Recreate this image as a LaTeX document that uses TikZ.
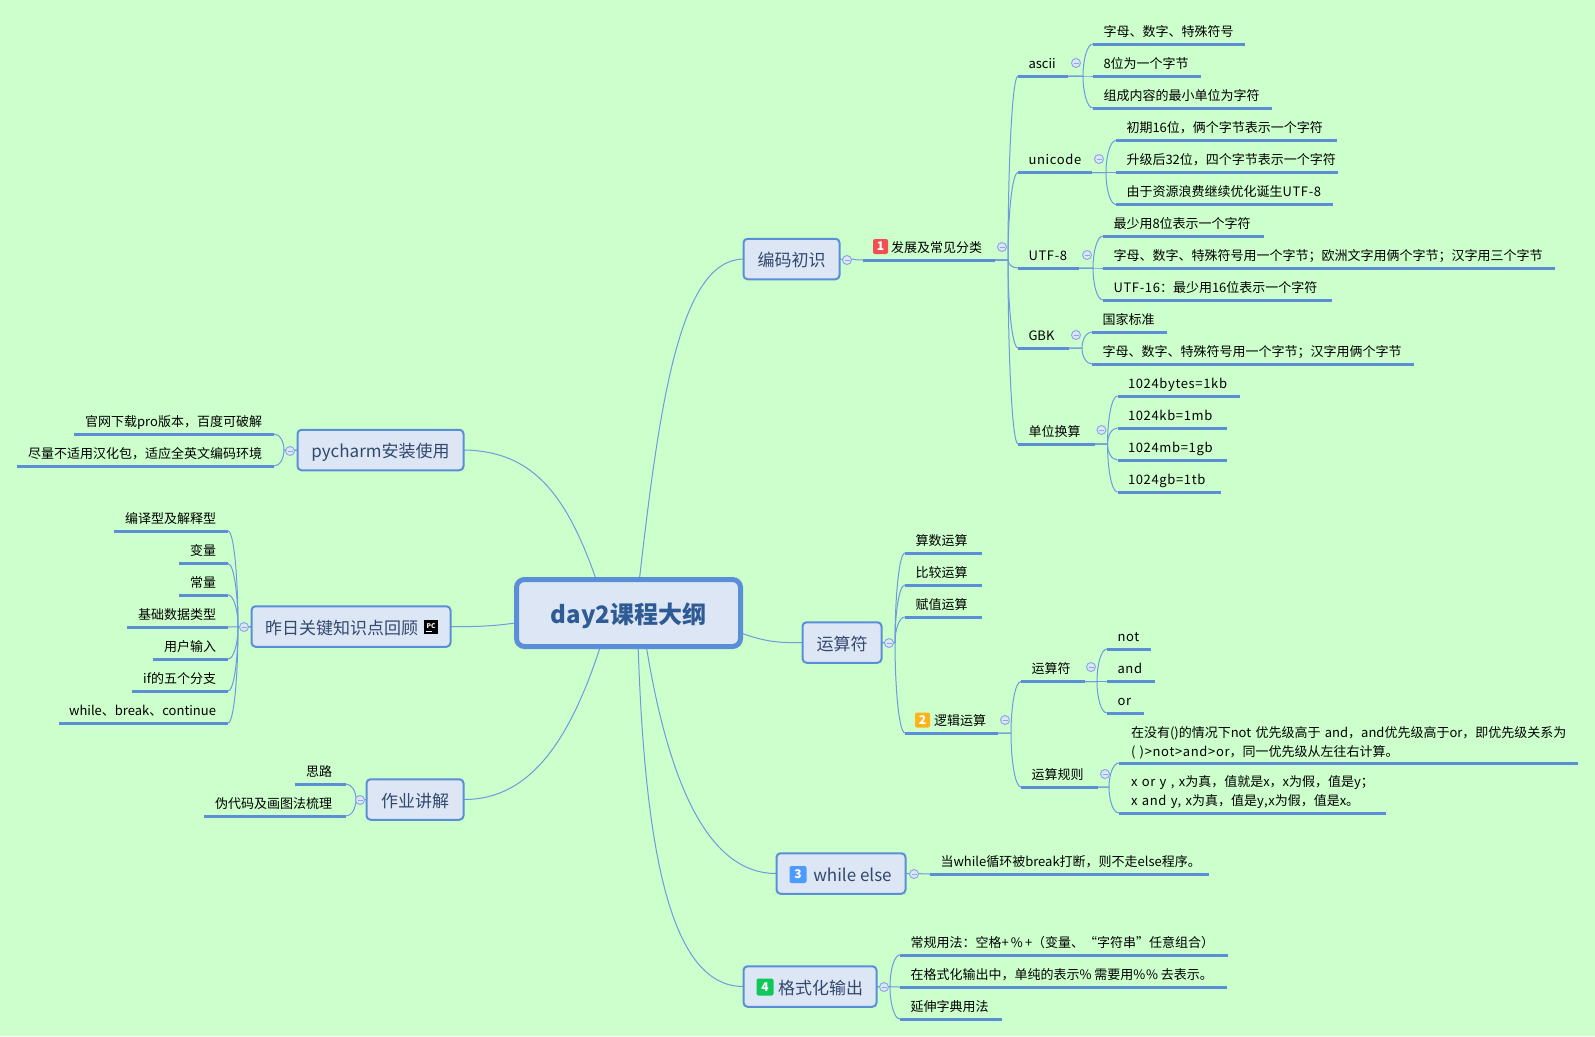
\documentclass[tikz,border=0pt]{standalone}
\usepackage{fontspec}
\setmainfont{Noto Sans CJK SC}
\newfontfamily\latfont[LetterSpace=5]{Noto Sans CJK SC}
\newcommand{\lat}[1]{{\latfont #1}}
\usetikzlibrary{backgrounds,calc}
\definecolor{paper}{HTML}{CCFFCC}
\definecolor{boxfill}{HTML}{DCE6F4}
\definecolor{boxline}{HTML}{5A8FD8}
\definecolor{linkline}{HTML}{6E9BDC}
\definecolor{ringline}{HTML}{8FA8EA}
\definecolor{boxtext}{HTML}{33486F}
\definecolor{roottext}{HTML}{2F5B94}
\definecolor{numred}{HTML}{F05050}
\definecolor{numorange}{HTML}{FFB31A}
\definecolor{numblue}{HTML}{4E9BFF}
\definecolor{numgreen}{HTML}{0FC85A}
\tikzset{
	root/.style={draw=boxline,fill=boxfill,line width=5pt,rounded corners=8pt,minimum width=224,minimum height=67,inner sep=0pt,outer sep=0pt,text height=20pt,text depth=0pt,text=roottext,font=\fontsize{24}{28}\selectfont\bfseries},
	topic/.style={draw=boxline,fill=boxfill,line width=2pt,rounded corners=4pt,inner sep=0pt,outer sep=0pt,minimum height=40.5,text height=15pt,text depth=0pt,text=boxtext,font=\fontsize{17}{20}\selectfont},
	uline/.style={draw=boxline,line width=3pt},
	leafbase/.style={anchor=south west,inner xsep=0pt,inner ysep=5pt,outer sep=0pt,font=\fontsize{13}{19}\selectfont,
		append after command={(\tikzlastnode.south west) edge[uline] (\tikzlastnode.south east)}},
	leaf/.style={leafbase,text height=10pt,text depth=3pt,minimum width=#1,
		execute at begin node={\hbox to #1pt\bgroup\hskip 10.5pt\relax},execute at end node={\hfil\egroup}},
	lleaf/.style={leafbase,text height=10pt,text depth=3pt,minimum width=#1,
		execute at begin node={\hbox to #1pt\bgroup\hfil},execute at end node={\hskip 12pt\relax\egroup}},
	mleaf/.style={leafbase,inner xsep=12pt,inner ysep=4pt,text width={#1-24},align=left},
	toggle/.style={circle,draw=ringline,fill=boxfill,line width=1pt,minimum size=9,inner sep=0pt,
		path picture={\draw[ringline,line width=1pt] ([xshift=-2.5pt]path picture bounding box.center) -- ([xshift=2.5pt]path picture bounding box.center);}},
	badge/.style={rounded corners=2pt,inner sep=0pt,minimum size=#1,text=white,font=\fontsize{12}{12}\selectfont\bfseries},
	pcicon/.style={fill=black,inner sep=0pt,minimum size=14,text=white,font=\fontsize{6.5}{7}\selectfont\bfseries},
	link/.style={draw=linkline,line width=1pt},
	branch/.style={to path={let \p1=(\tikztostart),\p2=(\tikztotarget) in -- ({\x2-(#1)},\y1) .. controls ({\x2-(#1)},{0.5*\y1+0.5*\y2}) and ({\x2-0.6*(#1)},\y2) .. (\p2)}},
	branch/.default=10pt
}
\begin{document}
\begin{tikzpicture}[x=1pt,y=-1pt]
	\useasboundingbox (0,0) rectangle (1595,1036);
	
	\node[root] (root) at (628.5,613) {day2课程大纲};
	\node[topic,minimum width=96] (bianma) at (791.5,259) {编码初识};
	\node[topic,minimum width=79] (yunsuan) at (842,642.5) {运算符};
	\node[topic,minimum width=129] (whileelse) at (841,873.5) {\hspace*{23pt}while else};
	\node[topic,minimum width=133] (geshi) at (810,986.5) {\hspace*{21pt}格式化输出};
	\node[topic,minimum width=166] (pycharm) at (380.5,450) {pycharm安装使用};
	\node[topic,minimum width=199] (zuori) at (351,626.5) {昨日关键知识点回顾\hspace*{19pt}};
	\node[topic,minimum width=97] (zuoye) at (415,799.5) {作业讲解};
	
	\node[leaf=132] (fazhan) at (863,260) {\hspace*{17.5pt}发展及常见分类};
	\node[leaf=50] (ascii) at (1018,76) {ascii};
	\node[leaf=152] (ascii1) at (1093,44) {字母、数字、特殊符号};
	\node[leaf=108] (ascii2) at (1093,76) {8位为一个字节};
	\node[leaf=179] (ascii3) at (1093,108) {组成内容的最小单位为字符};
	\node[leaf=74] (unicode) at (1018,172.5) {\lat{unicode}};
	\node[leaf=221] (uni1) at (1116,140.5) {初期16位，俩个字节表示一个字符};
	\node[leaf=222] (uni2) at (1116,172.5) {升级后32位，四个字节表示一个字符};
	\node[leaf=217] (uni3) at (1116,204.5) {由于资源浪费继续优化诞生\lat{UTF-8}};
	\node[leaf=61] (utf) at (1018,268) {\lat{UTF-8}};
	\node[leaf=161] (utf1) at (1103,236) {最少用8位表示一个字符};
	\node[leaf=452] (utf2) at (1103,268) {字母、数字、特殊符号用一个字节；欧洲文字用俩个字节；汉字用三个字节};
	\node[leaf=229] (utf3) at (1103,300) {\lat{UTF-16}：最少用16位表示一个字符};
	\node[leaf=51] (gbk) at (1018,348) {GBK};
	\node[leaf=75] (gbk1) at (1092,332) {国家标准};
	\node[leaf=322] (gbk2) at (1092,364) {字母、数字、特殊符号用一个字节；汉字用俩个字节};
	\node[leaf=77] (danwei) at (1018,444) {单位换算};
	\node[leaf=122] (dan1) at (1117.5,396) {\lat{1024bytes=1kb}};
	\node[leaf=109] (dan2) at (1117.5,428) {\lat{1024kb=1mb}};
	\node[leaf=109] (dan3) at (1117.5,460) {\lat{1024mb=1gb}};
	\node[leaf=103] (dan4) at (1117.5,492) {\lat{1024gb=1tb}};
	
	\node[leaf=77] (suan1) at (905,553) {算数运算};
	\node[leaf=77] (suan2) at (905,585) {比较运算};
	\node[leaf=77] (suan3) at (905,617) {赋值运算};
	\node[leaf=93] (suan4) at (905,733) {\hspace*{18.5pt}逻辑运算};
	\node[leaf=64] (fu) at (1021,681.5) {运算符};
	\node[leaf=44] (fu1) at (1107,649) {\lat{not}};
	\node[leaf=48] (fu2) at (1107,681.5) {\lat{and}};
	\node[leaf=37] (fu3) at (1107,713) {\lat{or}};
	\node[leaf=77] (guize) at (1021,787) {运算规则};
	\node[mleaf=459] (gui1) at (1119,763) {在没有()的情况下not 优先级高于 and，and优先级高于or，即优先级关系为\\\lat{( )>not>and>or}，同一优先级从左往右计算。};
	\node[mleaf=267] (gui2) at (1119,813) {\lat{x or y , x}为真，值就是\lat{x}，\lat{x}为假，值是\lat{y}；\\\lat{x and y, x}为真，值是\lat{y,x}为假，值是\lat{x}。};
	
	\node[leaf=279] (wh1) at (930,874) {当while循环被break打断，则不走else程序。};
	\node[leaf=328] (ge1) at (900,955) {常规用法：空格\lat{+\,\%\,+}（变量、“字符串”任意组合）};
	\node[leaf=327] (ge2) at (900,987) {在格式化输出中，单纯的表示\lat{\%} 需要用\lat{\%\%} 去表示。};
	\node[leaf=102] (ge3) at (900,1019) {延伸字典用法};
	
	\node[lleaf=200] (py1) at (74,434) {官网下载pro版本，百度可破解};
	\node[lleaf=257] (py2) at (17,466) {尽量不适用汉化包，适应全英文编码环境};
	\node[lleaf=114] (zr1) at (114,531) {编译型及解释型};
	\node[lleaf=49] (zr2) at (179,563.5) {变量};
	\node[lleaf=49] (zr3) at (179,595) {常量};
	\node[lleaf=101] (zr4) at (127,627) {基础数据类型};
	\node[lleaf=75] (zr5) at (153,659) {用户输入};
	\node[lleaf=96] (zr6) at (132,691) {if的五个分支};
	\node[lleaf=169] (zr7) at (59,723) {while、break、continue};
	\node[lleaf=51,xshift=-2pt] (zy1) at (297,784) {思路\hspace*{2pt}};
	\node[lleaf=142] (zy2) at (204,816) {伪代码及画图法梳理\hspace*{2pt}};
	
	\node[toggle] (tgbianma) at (847,260) {};
	\node[toggle] (tgfazhan) at (1002,247) {};
	\node[toggle] (tgascii) at (1076,63) {};
	\node[toggle] (tgunicode) at (1099,159) {};
	\node[toggle] (tgutf) at (1087,255) {};
	\node[toggle] (tggbk) at (1076,335) {};
	\node[toggle] (tgdanwei) at (1101.5,430) {};
	\node[toggle] (tgyunsuan) at (889,643) {};
	\node[toggle] (tgluoji) at (1005,720) {};
	\node[toggle] (tgfu) at (1091,667) {};
	\node[toggle] (tgguize) at (1105,774) {};
	\node[toggle] (tgwhile) at (914,874) {};
	\node[toggle] (tggeshi) at (884,987) {};
	\node[toggle] (tgpycharm) at (290,451) {};
	\node[toggle] (tgzuori) at (244,627) {};
	\node[toggle] (tgzuoye) at (360,800) {};
	
	\node[badge=15,fill=numred] (num1) at (880.5,246.5) {1};
	\node[badge=15,fill=numorange] (num2) at (922.5,720) {2};
	\node[badge=17,fill=numblue] (num3) at (798,874.5) {3};
	\node[badge=17,fill=numgreen] (num4) at (765,987) {4};
	\node[pcicon,text height=8pt,text depth=6pt] (pc) at (431,627) {PC};
	\draw[white,line width=1pt] ([shift={(2,-3)}]pc.south west) -- ([shift={(8,-3)}]pc.south west);
	
	\begin{scope}[on background layer]
		\fill[paper] (0,0) rectangle (1595,1036);
		
		\draw[link] (root.72) .. controls (660,400) and (680,260) .. (bianma.west);
		\draw[link] (root.-10) .. controls (765,642) and (780,643) .. (yunsuan.west);
		\draw[link] (root.-62) .. controls (665,760) and (700,874) .. (whileelse.west);
		\draw[link] (root.-74) .. controls (645,850) and (670,987) .. (geshi.west);
		\draw[link] (root.134) .. controls (565,490) and (530,451) .. (pycharm.east);
		\draw[link] (root.185) .. controls (495,626) and (475,627) .. (zuori.east);
		\draw[link] (root.230) .. controls (570,740) and (530,800) .. (zuoye.east);
		
		\draw[link] (bianma.east) to[branch] (fazhan.south west);
		\draw[link] (fazhan.south east) to[branch] (ascii.south west);
		\draw[link] (fazhan.south east) to[branch] (unicode.south west);
		\draw[link] (fazhan.south east) to[branch] (utf.south west);
		\draw[link] (fazhan.south east) to[branch] (gbk.south west);
		\draw[link] (fazhan.south east) to[branch] (danwei.south west);
		\draw[link] (ascii.south east) to[branch] (ascii1.south west);
		\draw[link] (ascii.south east) to[branch] (ascii2.south west);
		\draw[link] (ascii.south east) to[branch] (ascii3.south west);
		\draw[link] (unicode.south east) to[branch] (uni1.south west);
		\draw[link] (unicode.south east) to[branch] (uni2.south west);
		\draw[link] (unicode.south east) to[branch] (uni3.south west);
		\draw[link] (utf.south east) to[branch] (utf1.south west);
		\draw[link] (utf.south east) to[branch] (utf2.south west);
		\draw[link] (utf.south east) to[branch] (utf3.south west);
		\draw[link] (gbk.south east) to[branch] (gbk1.south west);
		\draw[link] (gbk.south east) to[branch] (gbk2.south west);
		\draw[link] (danwei.south east) to[branch] (dan1.south west);
		\draw[link] (danwei.south east) to[branch] (dan2.south west);
		\draw[link] (danwei.south east) to[branch] (dan3.south west);
		\draw[link] (danwei.south east) to[branch] (dan4.south west);
		
		\draw[link] (yunsuan.east) to[branch] (suan1.south west);
		\draw[link] (yunsuan.east) to[branch] (suan2.south west);
		\draw[link] (yunsuan.east) to[branch] (suan3.south west);
		\draw[link] (yunsuan.east) to[branch] (suan4.south west);
		\draw[link] (suan4.south east) to[branch] (fu.south west);
		\draw[link] (suan4.south east) to[branch] (guize.south west);
		\draw[link] (fu.south east) to[branch] (fu1.south west);
		\draw[link] (fu.south east) to[branch] (fu2.south west);
		\draw[link] (fu.south east) to[branch] (fu3.south west);
		\draw[link] (guize.south east) to[branch] (gui1.south west);
		\draw[link] (guize.south east) to[branch] (gui2.south west);
		
		\draw[link] (whileelse.east) to[branch] (wh1.south west);
		\draw[link] (geshi.east) to[branch] (ge1.south west);
		\draw[link] (geshi.east) to[branch] (ge2.south west);
		\draw[link] (geshi.east) to[branch] (ge3.south west);
		
		\draw[link] (pycharm.west) to[branch=-10pt] (py1.south east);
		\draw[link] (pycharm.west) to[branch=-10pt] (py2.south east);
		\draw[link] (zuori.west) to[branch=-10pt] (zr1.south east);
		\draw[link] (zuori.west) to[branch=-10pt] (zr2.south east);
		\draw[link] (zuori.west) to[branch=-10pt] (zr3.south east);
		\draw[link] (zuori.west) to[branch=-10pt] (zr4.south east);
		\draw[link] (zuori.west) to[branch=-10pt] (zr5.south east);
		\draw[link] (zuori.west) to[branch=-10pt] (zr6.south east);
		\draw[link] (zuori.west) to[branch=-10pt] (zr7.south east);
		\draw[link] (zuoye.west) to[branch=-10pt] (zy1.south east);
		\draw[link] (zuoye.west) to[branch=-10pt] (zy2.south east);
	\end{scope}
	
\end{tikzpicture}
\end{document}
